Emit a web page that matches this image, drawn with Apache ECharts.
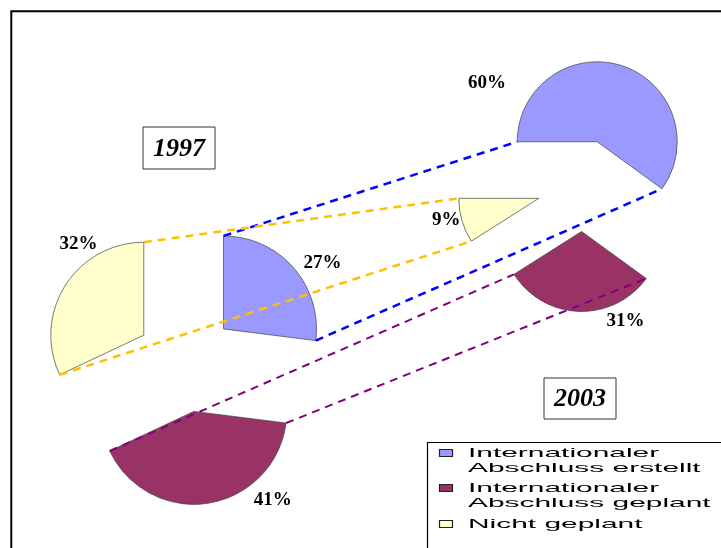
<!DOCTYPE html>
<html><head><meta charset="utf-8">
<script src="https://cdn.jsdelivr.net/npm/echarts@6/dist/echarts.min.js"></script>
<style>html,body{margin:0;padding:0;background:#fff}#c{width:721px;height:548px}</style>
</head><body><div id="c"></div>
<script>
// ---- data ----
const categories = ['Internationaler\nAbschluss erstellt', 'Internationaler\nAbschluss geplant', 'Nicht geplant'];
const years = ['1997', '2003'];
const values1997 = [27, 41, 32];
const values2003 = [60, 31, 9];

// ---- styles / layout ----
const sliceColors = ['#9999FF', '#993366', '#FFFFCC'];
const connectorColors = ['#0000FF', '#800080', '#FFC000'];
const connectorWidths = [2.5, 2, 2.5];
const pies = [
  { center: [186, 362], r: 93, offset: 50, startAngle: 90, values: values1997,
    labelFrac: [0.58, 0.28, 0.69], labelDist: [119, 119, 112], yearBox: [143, 127, 72, 42] },
  { center: [583, 185.5], r: 80, offset: 46, startAngle: 180, values: values2003,
    labelFrac: [0.13, 0.25, 0.6], labelDist: [125, 100, 95], yearBox: [544, 378, 72, 41] }
];

function pt(c, r, a) { const t = a * Math.PI / 180; return [c[0] + r * Math.sin(t), c[1] - r * Math.cos(t)]; }
function sliceGeom(p) {
  const sum = p.values.reduce((a, b) => a + b, 0);
  let a = 90 - p.startAngle;
  return p.values.map(v => {
    const s = a, e = a + 360 * v / sum; a = e;
    const sc = pt(p.center, p.offset, (s + e) / 2);
    return { s, e, sc, p0: pt(sc, p.r, s), p1: pt(sc, p.r, e) };
  });
}
const geoms = pies.map(sliceGeom);

const series = pies.map((p, si) => ({
  type: 'pie', center: p.center, radius: p.r, startAngle: p.startAngle, clockwise: true,
  selectedMode: 'multiple', selectedOffset: p.offset, avoidLabelOverlap: false,
  animation: false, emphasis: { disabled: true }, silent: true,
  data: p.values.map((v, i) => ({ name: categories[i], value: v, selected: true,
    itemStyle: { color: sliceColors[i] } })),
  itemStyle: { borderColor: '#404040', borderWidth: 0.7 },
  label: { show: false },
  labelLine: { show: false }
}));

const graphics = [];
// outer frame
graphics.push({ type: 'rect', shape: { x: 11.3, y: 11.3, width: 900, height: 700 },
  style: { fill: 'none', stroke: '#000', lineWidth: 2 }, z: 0 });
// connectors
for (let i = 0; i < categories.length; i++) {
  const a = geoms[0][i], b = geoms[1][i];
  [[a.p0, b.p0], [a.p1, b.p1]].forEach(([u, w]) => {
    graphics.push({ type: 'line', z: 100,
      shape: { x1: u[0], y1: u[1], x2: w[0], y2: w[1] },
      style: { stroke: connectorColors[i], lineWidth: connectorWidths[i], lineDash: [8, 6] } });
  });
}
// percentage labels (positioned from slice geometry)
pies.forEach((p, si) => {
  p.values.forEach((v, i) => {
    const g = geoms[si][i];
    const a = g.s + p.labelFrac[i] * (g.e - g.s);
    const q = pt(g.sc, p.labelDist[i], a);
    graphics.push({ type: 'text', z: 60, x: q[0], y: q[1],
      style: { text: v + '%', font: 'bold 19px "Liberation Serif"', fill: '#000',
        align: 'center', verticalAlign: 'middle' } });
  });
});
// year boxes
pies.forEach((p, si) => {
  const [x, y, w, h] = p.yearBox;
  graphics.push({ type: 'rect', z: 50, shape: { x, y, width: w, height: h },
    style: { fill: '#fff', stroke: '#333', lineWidth: 1 } });
  graphics.push({ type: 'text', z: 51, x: x + w / 2, y: y + h / 2 + 1,
    style: { text: years[si], font: 'italic bold 26px "Liberation Serif"', fill: '#000',
      align: 'center', verticalAlign: 'middle' } });
});
// legend
graphics.push({ type: 'rect', z: 50, shape: { x: 427.5, y: 442.5, width: 500, height: 300 },
  style: { fill: '#fff', stroke: '#000', lineWidth: 1.2 } });
const legendRowY = [453, 488, 524];
categories.forEach((c, i) => {
  graphics.push({ type: 'rect', z: 51, shape: { x: 439.5, y: legendRowY[i] - 3.5, width: 13, height: 7 },
    style: { fill: sliceColors[i], stroke: '#222', lineWidth: 1.2 } });
  graphics.push({ type: 'text', z: 51, x: 468, y: legendRowY[i] - 7.75, scaleX: 2.3,
    style: { text: c, font: '13px "Liberation Sans"', fill: '#000', lineHeight: 15.5,
      align: 'left', verticalAlign: 'top' } });
});

const chart = echarts.init(document.getElementById('c'), null, { renderer: 'canvas' });
chart.setOption({
  backgroundColor: '#fff',
  animation: false,
  series: series,
  graphic: { elements: graphics }
});
</script></body></html>
